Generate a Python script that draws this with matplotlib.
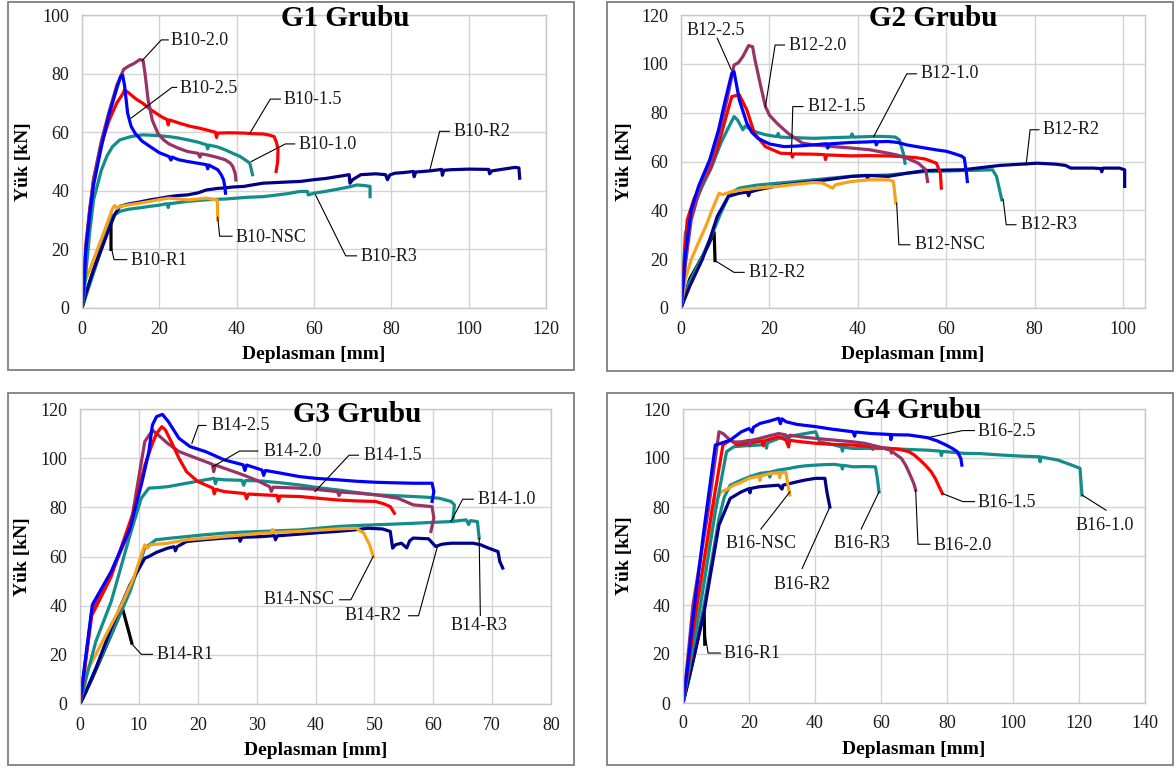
import matplotlib
matplotlib.use('Agg')
import matplotlib.pyplot as plt
from matplotlib.patches import Rectangle
import numpy as np

# ---- G1 Grubu (B10) ----
b10_25 = [(0,0),(0.5,8),(1,20),(2,32),(3,42),(5,55),(7,66),(9,75),(10,79),(10.5,79.5),(11,76),(11.8,66.5),(12.7,62),(13.7,59.7),(15.5,57),(17.6,55.1),(20,53),(22.5,51.7),(23,50.5),(23.3,51.5),(25,50.6),(27.3,50),(30,49.4),(32.2,48.9),(32.5,47.5),(32.8,48.8),(35.1,47.2),(36,45.5),(36.6,43.8),(37,41),(37.1,39.2)]
b10_20 = [(0,0),(0.5,10),(1,22),(2,34),(3,44),(5,57),(7,67),(9,76),(10.8,81.5),(12,82.5),(13.5,83.5),(15,84.8),(15.8,84.5),(16.3,80),(17.1,71),(18.2,64),(19.6,59.7),(21,57.5),(22.5,56),(25,54.5),(27.3,53.4),(30,52.8),(30.5,51.5),(30.8,52.6),(32.2,52.3),(35,51.4),(37,50.6),(38.3,49.5),(39,48.3),(39.6,46),(39.8,43.7)]
b10_15 = [(0,0),(0.3,8),(1,20),(2,33),(3,44),(5,56),(7,64),(9,70),(10.5,73),(11,74.4),(12,73.5),(14,71.3),(15.7,69.9),(18,67.5),(20.5,65.3),(22,64.3),(22.3,62.5),(22.6,64.2),(25.4,63),(28,62),(30.3,61.4),(33,60.5),(34.5,60),(34.8,58.2),(35.1,59.7),(38,59.8),(41.9,59.7),(44,59.5),(46.8,59.4),(48.5,59),(49.7,58.5),(50.3,56.5),(50.7,54),(50.6,50),(50.2,46.6)]
b10_10 = [(0,0),(0.5,4),(1,12),(2,26),(3,37),(5,47),(6.5,52),(7.9,55.1),(9.8,57.4),(12.7,58.5),(15.7,59.1),(19,58.9),(22.5,58.5),(25,58),(27.3,57.4),(30,56.6),(32.2,55.7),(32.5,54.3),(32.8,55.6),(35,55),(37,54),(39,52.8),(40.9,51.7),(42.5,50.3),(43.4,49.4),(44.1,45.5)]
b10_r2 = [(0,0),(1,5),(3,13),(5,20),(7,27),(8.5,32),(9.8,34.7),(12,35.5),(15,36.2),(17.6,36.9),(20,37.4),(22.5,38),(25,38.4),(27.3,38.6),(30,39.3),(32.2,40.3),(35,40.8),(37,41),(39,41.3),(41.9,41.5),(44,42),(46.8,42.6),(50,42.8),(53,43),(56.5,43.2),(60,43.8),(63,44.2),(66.3,44.9),(69.1,45.5),(69.3,42.6),(70,43.8),(72.1,45.5),(76,45.8),(78.5,45.5),(79,43.8),(79.6,45.4),(80.9,46),(83,46.2),(85.7,46.6),(85.9,44.8),(86.3,46.4),(90,46.8),(93,47.3),(93.2,45.3),(93.6,47),(95.4,47.2),(100,47.4),(105.2,47.3),(105.4,45.8),(106,46.8),(109,47.4),(112,48),(113,47.8),(113.2,44.3)]
b10_r3 = [(0,0),(1,4),(3,12),(5,20),(7,28),(7.9,31.3),(9.8,33),(12,33.7),(15,34.2),(17.6,34.7),(20,35.1),(22,35.6),(22.3,34.3),(22.6,35.6),(25,36),(27.3,36.4),(30,36.7),(33,37),(37,37.2),(40,37.5),(43,37.8),(46.8,38),(50,38.5),(53,39),(56.5,39.8),(58.3,39.8),(58.5,38.6),(60,39.2),(63,39.8),(66.3,40.6),(69,41.3),(71.1,42),(73,41.8),(74.5,41.5),(74.5,38)]
b10_nsc = [(0,0),(0.4,6),(0.6,8.5),(2,13),(4,20),(6,27),(7.9,34),(8.5,35),(9,34),(9.8,34.7),(12,35.2),(15,35.8),(17.6,36.4),(20,37),(22.5,37.5),(25,37.2),(27.3,36.9),(30,37.2),(32.2,37.5),(34.6,36.9),(35,36.8),(35.1,30.1)]
b10_r1 = [(0,0),(2,9),(4,17),(6,25),(7.5,31.8),(7.5,20)]

# ---- G2 Grubu (B12) ----
b12_25 = [(0,0),(1,22),(2.3,40.2),(4,50),(6.5,60.7),(8.5,73),(10,85),(11.5,96.1),(12,96.8),(12.5,92),(13.2,85.2),(14.9,75.7),(16,72),(17.4,69.5),(20,67.2),(23.3,66.1),(26,66.3),(30,66.8),(33,67.3),(33.2,65.5),(33.5,67.2),(38.5,67.8),(42,68),(44,68.2),(44.2,66.8),(44.5,68.1),(46.9,68.2),(49,67.8),(51.1,66.8),(53,66.2),(55.3,65.5),(58,64.7),(60,64.2),(62,63.1),(63.5,62.2),(64.1,61.4),(64.6,55.2),(64.8,51.8)]
b12_20 = [(0,0),(1,18),(2.3,36),(4,47),(6.5,58),(8.5,70),(10.5,86),(12,99.5),(13,100.5),(14,103),(15.3,107.5),(16.2,107),(16.7,102),(17.9,92),(19.1,82.5),(20,79),(21.7,75.7),(24.2,71.6),(27.5,67.5),(30,66.8),(34.3,66.1),(38,65.6),(42.7,64.8),(46.9,63.4),(49,62.6),(51.1,61.4),(53.7,59.3),(55.4,56.6),(55.8,51.8)]
b12_15 = [(0,0),(1.4,36),(3,45),(5,52),(6.5,56.6),(8.5,67),(10,77),(11.5,86.6),(13.2,87.3),(14.9,81.1),(16.6,71.6),(19.1,66.1),(22.5,63.4),(25,63.2),(25.2,61.8),(25.5,63.1),(30,63),(32.5,62.8),(32.7,60.8),(33,62.7),(38.5,62.3),(42,62.4),(46.9,62.3),(50,62),(53,61.6),(55.3,61),(57.8,59.3),(58.7,55.2),(58.9,49.1)]
b12_10 = [(0,0),(1,30.7),(3,42),(4.8,49.8),(7,58),(9,67.5),(10.5,73),(12,78.4),(12.8,77),(14,73),(14.5,74.5),(16.6,72.3),(19,71),(21.7,70.2),(22,71.5),(22.3,70),(25,69.8),(30,69.5),(35,69.8),(38.5,70),(38.7,71.3),(39,70),(44,70.3),(46.9,70.2),(48.5,70),(49.4,68.9),(50.3,63.4),(50.7,59.3)]
b12_r2 = [(0,0),(2,9),(4.8,19.8),(6.5,28),(8.2,37.5),(10.7,45.7),(13.2,47),(15,47.5),(15.3,46),(15.6,47.5),(17.4,48.4),(21.7,50),(25,50.8),(30,51.8),(35,53),(38.5,53.9),(42,54.3),(42.2,53),(42.5,54.3),(46.9,53.9),(51.1,55.2),(55.3,56.3),(60,56.5),(63.8,56.6),(68,57.5),(72.2,58.4),(76,58.8),(80.6,59.3),(84.8,58.9),(87,58.4),(88.2,57.3),(93.3,57.3),(95,57.1),(95.2,55.8),(95.5,57.3),(99.2,57.3),(100.4,56.6),(100.4,49.8)]
b12_r3 = [(0,0),(1.8,10.2),(4.8,21),(7,30),(9,38.9),(11.1,47),(13.2,49.1),(17,50.3),(21.7,51.1),(25,51.6),(30,52.5),(34,53.2),(38.5,53.9),(42,54.2),(46.9,54.5),(50,55),(55.3,55.9),(60,56.1),(63.8,56.3),(67,56.4),(70.5,56.6),(71.4,53.9),(72.6,44.3)]
b12_nsc = [(0,0),(1,12),(2.3,19.8),(4,27),(5.6,33.4),(7,40),(8.6,47),(9.4,46.4),(11.5,47.7),(14,48.4),(17.4,49.1),(21.7,49.8),(25,50.5),(30,51.4),(32,51.2),(34.3,49.1),(35,50.5),(38.5,51.8),(42.7,52.5),(46.9,52.5),(48,52),(48.2,49.8),(48.6,43)]
b12_r1 = [(0,0),(2,12),(4,18.4),(6,25),(7.5,31),(7.7,19.4)]

# ---- G3 Grubu (B14) ----
b14_25 = [(0,0),(0.8,16),(2.1,40.4),(5.3,53.9),(8.5,71.5),(10.5,90),(11.7,102.7),(12.3,113.5),(13,116.9),(14,117.8),(15,114.9),(16.8,108.1),(18.7,104.7),(21.3,102.7),(24.5,99.3),(27.7,97.3),(28,95),(28.3,97.2),(30.9,95.2),(31.2,93),(31.5,95),(34.1,93.9),(37.3,92.5),(40,91.8),(43.7,91.2),(47,90.6),(50.2,90.2),(53,90),(56.6,89.8),(59.8,89.8),(60.1,86.4),(59.8,82.4)]
b14_20 = [(0,0),(0.8,15),(2,38),(5.3,53),(8.5,71),(11,106.7),(12.3,111.4),(13,110),(14.9,106),(16.8,102.7),(21.3,98.6),(22.5,97.5),(22.7,94.5),(23,97.2),(24.5,95.9),(27.7,93.2),(30,91),(32.2,88.4),(32.5,86.5),(32.8,88.2),(37.3,87.8),(40,87.3),(43.7,86.4),(44,84.8),(44.3,86.2),(47,85.8),(50.2,85.1),(54,83.7),(56.6,81),(59.8,80.3),(60.1,75.6),(59.6,70.2)]
b14_15 = [(0,0),(0.8,14.6),(2,36),(5.3,51.9),(9.1,78.3),(11,97),(12.3,106),(13,110),(13.9,112.8),(14.5,111.5),(15.5,106.7),(16.8,100),(18.1,94.5),(20,90.5),(22.6,87.8),(22.8,85.5),(23.1,87.3),(24.5,86.4),(28,85.6),(28.3,83.5),(28.6,85.4),(30.9,85.1),(33.5,84.8),(33.7,82.5),(34,84.6),(37.3,84.4),(40,83.8),(43.7,83),(47,82.6),(50.2,82.4),(51.5,81.5),(52.7,80.3),(53.4,77.6)]
b14_10 = [(0,0),(1.2,12),(2.7,25.5),(5.3,41.7),(8.5,68.8),(10.4,83.7),(11.7,87.8),(13,88),(14.9,88.4),(18.1,89.8),(21.3,91.2),(22.8,91.8),(23,89.6),(23.3,91.5),(24.5,91.2),(27.5,91),(27.8,89),(28.1,90.9),(30.9,90.7),(34,90),(37.3,89.1),(40.5,88),(43.7,87.1),(47,86),(50.2,85.1),(53,84.8),(56.6,84.4),(59,84.1),(61,83.7),(63,82.4),(63.6,81),(63.3,74.2)]
b14_r2 = [(0,0),(1,5),(2.7,14.6),(5.3,30.9),(8.5,48.5),(11,59.3),(11.7,60),(13,61.7),(14.9,63.4),(16,64),(16.2,62.3),(16.5,64),(18.1,66.1),(21,66.8),(24.5,67.5),(27,67.8),(27.2,66.2),(27.5,67.8),(30.9,68.1),(33,68.5),(33.2,66.8),(33.5,68.4),(37.3,69.1),(40.5,69.7),(43.7,70.2),(46.5,70.8),(48.9,71.5),(51.4,71.2),(52.7,70.2),(53.1,63.4),(53.6,64.8),(54.6,65.4),(55.5,63.5),(56,66.4),(56.6,67.5),(59.2,67.2),(60.4,64.1),(61.5,65),(63,65.4),(66.8,65.4),(68,64.8),(69.4,63.4),(71,62),(71.3,58),(71.8,55.3)]
b14_r3 = [(0,0),(1,5),(3,16),(5.3,28.2),(8.5,45.8),(11,63.4),(12.9,66.8),(15.5,67.5),(18.1,68.1),(21,68.8),(24.5,69.5),(27.5,69.9),(30.9,70.2),(34,70.5),(37.3,70.8),(40.5,71.5),(43.7,72.2),(47,72.6),(50.2,72.9),(53.5,73.2),(56.6,73.5),(60,73.9),(63,74.2),(65.6,74.9),(66,73),(66.3,74.6),(67.5,74.2),(67.8,67.5)]
b14_nsc = [(0,0),(0.4,10.6),(2,17),(5.3,32.2),(7,40),(9.1,51.2),(11,64.7),(11.5,63.5),(12,64.8),(14.9,65.4),(18.1,66.8),(21.3,67.4),(24.5,68.1),(27.7,68.8),(30.9,69.5),(32.5,69.6),(32.7,71),(33,69.8),(37.3,70.2),(40.5,70.7),(43.7,71.2),(46.9,71.5),(48.2,69.5),(49.2,64.7),(49.8,60)]
b14_r1 = [(0,0),(2,10),(4,21),(6,32),(7.2,39),(8.8,24.8)]

# ---- G4 Grubu (B16) ----
b16_25 = [(0,0),(1.5,16),(3,34.5),(6.4,71.2),(9.8,105.3),(11.5,106),(14.3,107.3),(17.7,110.7),(20,112),(21,110.5),(21.3,112.5),(23.3,114.1),(26,115),(29,116.2),(29.5,114),(30,116),(31.2,114.8),(34.6,113.7),(40.2,112.8),(45,111.8),(51.5,110.7),(52,108.9),(52.3,110.6),(57,110),(62.8,109.6),(63,107.5),(63.3,109.5),(68.4,109.4),(74.1,108.3),(77,107),(79.7,105.3),(81.5,104),(83.1,102.6),(84.2,99.8),(84.5,97.1)]
b16_20 = [(0,0),(1.5,19),(3,39.9),(7.6,78),(10.9,110.7),(12.1,110),(13.8,107.9),(15.5,106.5),(17.7,106.6),(20,107.2),(20.3,105),(20.6,107.2),(23.3,108),(26,109),(29,110),(31.2,109.4),(32,107.5),(32.3,109.3),(36,108.6),(40.2,108),(45,107.4),(51.5,106.6),(55,106),(57.2,105.3),(57.5,103.5),(57.8,105.1),(60,104.3),(62.8,103.2),(64.5,101.5),(66.2,99.8),(67.5,97),(68.4,94.4),(69.5,91),(70.1,88.9),(70.5,86.9)]
b16_15 = [(0,0),(2,19),(4.2,39.9),(8.7,78),(12.1,105.3),(14.3,107.3),(16.6,105.3),(20,106),(24,107),(24.3,105),(24.6,107),(29,108.7),(31.2,107.3),(32,104.5),(32.3,107.2),(36,106.6),(40.2,106),(45,105.6),(51.5,105.3),(57,104.6),(62.8,103.9),(63.2,102),(63.5,103.8),(66,103.4),(68.4,102.6),(70,101.3),(71.8,99.2),(73.5,97),(75.2,94.4),(76.5,91.5),(77.4,88.9),(78.6,85.5)]
b16_10 = [(0,0),(2.5,19),(5.3,39.9),(9.8,78),(13.2,102.6),(15.4,104.6),(19,105),(23.3,105.3),(25,106),(25.3,104),(25.6,106.2),(29,108),(34.6,109.4),(40.2,110.7),(41.4,106.6),(45.9,105.3),(48,104.5),(48.3,102.8),(48.6,104.4),(51.5,103.9),(57,103.9),(62.8,103.9),(68,103.5),(74.1,103.2),(78,102.8),(78.3,101),(78.6,102.7),(85.3,101.9),(90,101.8),(96.6,101.2),(102,100.8),(107.9,100.5),(108.2,98.5),(108.5,100.4),(113.5,99.2),(117,97.5),(120.3,95.8),(120.9,84.9)]
b16_r3 = [(0,0),(3,18),(6.4,39.9),(10.9,75.3),(12.5,84),(14.3,88.9),(17.7,91),(20.5,92.5),(23.3,93.7),(26,94.2),(26.3,92.2),(26.6,94.3),(29,95.1),(32,95.7),(34.6,96.4),(37,96.8),(40.2,97.1),(43,97.3),(45.9,97.4),(48,97),(48.3,95.5),(48.6,97),(51.5,96.4),(55,96.5),(58.3,96.4),(58.9,91.7),(59.4,86.2)]
b16_nsc = [(0,0),(2.5,22),(5.3,45.4),(9.8,82.1),(11.5,86.2),(13,87),(15.4,88.9),(17.5,90),(20,91.7),(23,92.6),(23.3,90.8),(23.6,92.7),(26.7,93.7),(29,94),(29.3,92),(29.6,94),(31.2,94.1),(31.8,88.9),(32.4,84.9)]
b16_r2 = [(0,0),(3,17),(6.4,37.2),(10.9,72.6),(14.3,83.5),(17.7,86.2),(20,87.5),(20.3,85.8),(20.6,87.6),(23.3,88.3),(26,88.6),(29,88.9),(30,87.3),(30.3,88.9),(34.6,90.3),(37,91),(40.2,91.7),(43,91.7),(43.6,86.2),(44.5,80)]
b16_r1 = [(0,0),(2,11),(4,23),(6.4,37.9),(6.6,24)]

BLUE, RED, PURPLE, TEAL, NAVY, ORANGE, BLACK = '#0000FF', '#FF0000', '#993366', '#138C8C', '#000088', '#F7A21B', '#000000'

W, H = 1176, 771
plt.rcParams['font.family'] = ['Liberation Serif', 'DejaVu Serif']

fig = plt.figure(figsize=(W / 100, H / 100), dpi=100)


def fx(x):
    return x / W


def fy(y):
    return 1 - y / H


def draw_panel(box, frame, curves, xmax, xstep, ymax, title, title_xy, labels, ylab_x):
    l, t, r, b = box
    ax = fig.add_axes([fx(l), fy(b), fx(r - l), (b - t) / H])
    fl, ft, fr, fb = frame
    fig.patches.append(Rectangle((fx(fl), fy(fb)), fx(fr - fl), (fb - ft) / H,
                                 transform=fig.transFigure, fill=False,
                                 edgecolor='#7F7F7F', lw=1.3))
    for pts, col in curves:
        a = np.array(pts)
        ax.plot(a[:, 0], a[:, 1], color=col, lw=2.3, solid_joinstyle='round')
    for txt, tx, ty, ha, lead in labels:
        a = np.array(lead)
        ax.plot(a[:, 0], a[:, 1], color='#000000', lw=0.8, zorder=5)
        ax.text(tx, ty, txt, ha=ha, va='center', fontsize=13, color='#1a1a1a', zorder=6)
    ax.set_xlim(0, xmax)
    ax.set_ylim(0, ymax)
    ax.set_xticks(np.arange(0, xmax + 0.01, xstep))
    ax.set_yticks(np.arange(0, ymax + 0.01, 20))
    ax.grid(True, color='#D4D4D4', lw=1.0)
    ax.set_axisbelow(True)
    for s in ax.spines.values():
        s.set_color('#C8C8C8')
        s.set_linewidth(1.0)
    ax.tick_params(length=0, pad=9, labelsize=13, colors='#1a1a1a')
    ax.set_xlabel('Deplasman [mm]', fontsize=14, fontweight='bold', labelpad=6)
    fig.text(fx(ylab_x), fy((t + b) / 2), 'Yük [kN]', rotation=90, ha='center', va='center',
             fontsize=14, fontweight='bold')
    fig.text(fx(title_xy[0]), fy(title_xy[1]), title, ha='center', va='center',
             fontsize=21, fontweight='bold')
    return ax


draw_panel((82, 15, 546, 308), (8, 2, 574, 370),
           [(b10_r1, BLACK), (b10_r3, TEAL), (b10_r2, NAVY), (b10_nsc, ORANGE),
            (b10_10, TEAL), (b10_15, RED), (b10_20, PURPLE), (b10_25, BLUE)],
           120, 20, 100, 'G1 Grubu', (345, 19),
           [('B10-2.0', 23, 91.3, 'left', [(15.6, 84.5), (20.5, 91.5), (22.3, 91.5)]),
            ('B10-2.5', 25.2, 75, 'left', [(12.7, 64.8), (23.3, 75.3), (24.5, 75.3)]),
            ('B10-1.5', 52.2, 71, 'left', [(43.4, 59.6), (48.7, 71.3), (51.3, 71.3)]),
            ('B10-1.0', 56, 55.7, 'left', [(43.8, 50), (52.6, 56), (55, 56)]),
            ('B10-R2', 96, 60.2, 'left', [(90, 47.3), (92.5, 60.3), (95, 60.3)]),
            ('B10-NSC', 39.8, 24.2, 'left', [(35.1, 31), (35.6, 24.5), (38.8, 24.5)]),
            ('B10-R3', 72.1, 17.6, 'left', [(60.4, 38.6), (68.2, 17.8), (71, 17.8)]),
            ('B10-R1', 12.6, 16.3, 'left', [(7.5, 21), (8.3, 16.5), (11.6, 16.5)])],
           24)

draw_panel((681, 15, 1145, 308), (607, 2, 1173, 371),
           [(b12_r1, BLACK), (b12_r3, TEAL), (b12_r2, NAVY), (b12_nsc, ORANGE),
            (b12_10, TEAL), (b12_15, RED), (b12_20, PURPLE), (b12_25, BLUE)],
           105, 20, 120, 'G2 Grubu', (933, 19),
           [('B12-2.5', 1.3, 113.6, 'left', [(11.4, 97.5), (8.2, 110.5)]),
            ('B12-2.0', 24.4, 107.7, 'left', [(19.1, 82.5), (21.3, 107.7), (23.4, 107.7)]),
            ('B12-1.0', 54.3, 95.9, 'left', [(43.6, 70.2), (51.1, 95.9), (53.3, 95.9)]),
            ('B12-1.5', 28.6, 82.5, 'left', [(25, 63.4), (25.3, 82.5), (27.6, 82.5)]),
            ('B12-R2', 81.9, 73, 'left', [(78.1, 58.6), (79, 73), (81, 73)]),
            ('B12-R3', 76.8, 34.1, 'left', [(72.9, 44.5), (73.6, 34.1), (75.8, 34.1)]),
            ('B12-NSC', 52.8, 25.9, 'left', [(48.8, 43), (49.3, 25.9), (51.8, 25.9)]),
            ('B12-R2', 15.3, 14.6, 'left', [(7.7, 19.4), (12, 14.6), (14.3, 14.6)])],
           624)

draw_panel((80, 409, 551, 704), (8, 393, 574, 765),
           [(b14_r1, BLACK), (b14_r3, TEAL), (b14_r2, NAVY), (b14_nsc, ORANGE),
            (b14_10, TEAL), (b14_20, PURPLE), (b14_15, RED), (b14_25, BLUE)],
           80, 10, 120, 'G3 Grubu', (357, 414),
           [('B14-2.5', 22.3, 113.3, 'left', [(19, 106), (20.1, 113.3), (21.4, 113.3)]),
            ('B14-2.0', 31.2, 102.9, 'left', [(22.6, 96.6), (27.1, 102.9), (30.2, 102.9)]),
            ('B14-1.5', 48.2, 101.2, 'left', [(39.9, 86.4), (45.7, 101.2), (47.3, 101.2)]),
            ('B14-1.0', 67.5, 83.3, 'left', [(63, 74.2), (65, 83.3), (66.8, 83.3)]),
            ('B14-NSC', 43.3, 42.4, 'right', [(49.8, 60), (46, 42.4), (44.1, 42.4)]),
            ('B14-R2', 45, 35.9, 'left', [(60.7, 64), (57.5, 35.9), (55.8, 35.9)]),
            ('B14-R3', 63, 32, 'left', [(67.8, 67.5), (68, 36)]),
            ('B14-R1', 13, 20, 'left', [(8.8, 24.5), (10.4, 20.2), (12.3, 20.2)])],
           22)

draw_panel((683, 409, 1145, 703), (607, 393, 1173, 765),
           [(b16_r1, BLACK), (b16_r3, TEAL), (b16_r2, NAVY), (b16_nsc, ORANGE),
            (b16_10, TEAL), (b16_15, RED), (b16_20, PURPLE), (b16_25, BLUE)],
           140, 20, 120, 'G4 Grubu', (917, 411),
           [('B16-2.5', 89.3, 111, 'left', [(74.1, 108.3), (84.8, 111.2), (88.3, 111.2)]),
            ('B16-1.5', 89.3, 81.9, 'left', [(78.6, 85.5), (84.8, 82.2), (88.3, 82.2)]),
            ('B16-1.0', 118.9, 72.6, 'left', [(120.9, 84.9), (128.2, 78.7)]),
            ('B16-2.0', 75.8, 64.4, 'left', [(70.5, 86.9), (71.2, 64.8), (74.8, 64.8)]),
            ('B16-R3', 45.7, 65.1, 'left', [(59.4, 86.2), (54, 71)]),
            ('B16-NSC', 13, 65.1, 'left', [(32.4, 86.2), (23.6, 71)]),
            ('B16-R2', 27.3, 48.4, 'left', [(44.5, 80), (36.1, 54.9)]),
            ('B16-R1', 12.3, 20.2, 'left', [(6.6, 29), (7.6, 20.4), (11.3, 20.4)])],
           624)

fig.savefig('out.png', dpi=100)
